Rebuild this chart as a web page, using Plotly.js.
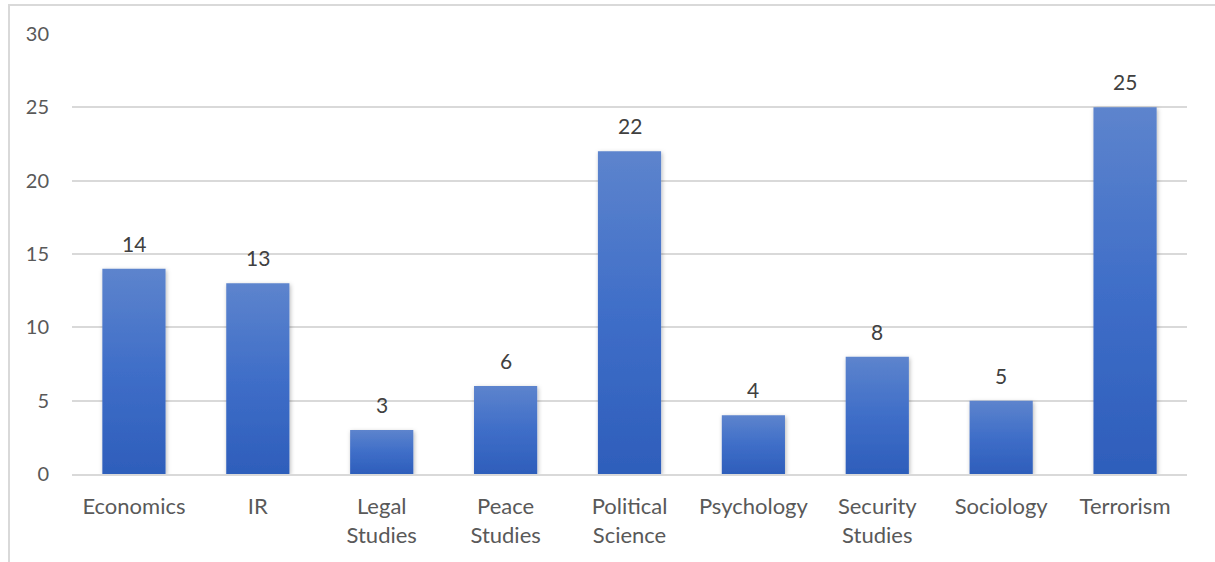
<!DOCTYPE html>
<html>
<head>
<meta charset="utf-8">
<script src="https://cdn.plot.ly/plotly-3.0.1.min.js"></script>
<style>
  html, body { margin: 0; padding: 0; background: #ffffff; }
  #frame {
    position: absolute; left: 8px; top: 4px;
    width: 1207px; height: 558px;
    border-left: 2px solid #d9d9d9; border-top: 2px solid #d9d9d9;
    box-sizing: border-box;
  }
  #chart { width: 1205px; height: 556px; }
</style>
</head>
<body>
<div id="frame"><div id="chart"></div></div>
<svg width="0" height="0" style="position:absolute">
  <defs>
    <linearGradient id="barFill" x1="0" y1="0" x2="0" y2="1">
      <stop offset="0" stop-color="#5d84cd"/>
      <stop offset="0.5" stop-color="#3f6ec8"/>
      <stop offset="1" stop-color="#2e5ebb"/>
    </linearGradient>
    <filter id="barShadow" x="-20%" y="-5%" width="140%" height="110%">
      <feDropShadow dx="1" dy="1.5" stdDeviation="2" flood-color="#000" flood-opacity="0.28"/>
    </filter>
  </defs>
</svg>
<script>
// Disciplines and number of items in each
const categories = ["Economics", "IR", "Legal<br>Studies", "Peace<br>Studies",
  "Political<br>Science", "Psychology", "Security<br>Studies", "Sociology", "Terrorism"];
const counts = [14, 13, 3, 6, 22, 4, 8, 5, 25];
const yTicks = [0, 5, 10, 15, 20, 25, 30];

const FONT = "Lato, 'Open Sans', sans-serif";

const trace = {
  type: "bar",
  x: categories,
  y: counts,
  marker: { color: "#3f6ec8", line: { width: 0 } },
  hoverinfo: "x+y"
};

// Value labels sit just above each bar
const labels = categories.map((c, i) => ({
  x: c, y: counts[i], text: String(counts[i]),
  xref: "x", yref: "y", showarrow: false,
  yanchor: "bottom", yshift: 11,
  font: { family: FONT, size: 21, color: "#404040" }
}));

const layout = {
  width: 1205, height: 556,
  margin: { l: 62, r: 28, t: 28, b: 88 },
  paper_bgcolor: "#ffffff", plot_bgcolor: "#ffffff",
  showlegend: false,
  bargap: 0.49,
  font: { family: FONT, size: 21, color: "#595959" },
  xaxis: {
    type: "category",
    showgrid: false, zeroline: false,
    showline: true, linecolor: "#d9d9d9", linewidth: 2,
    ticks: "", ticklabelstandoff: 12,
    tickfont: { family: FONT, size: 22, color: "#595959" },
    automargin: false
  },
  yaxis: {
    range: [0, 30], tickvals: yTicks, ticktext: yTicks.map(String),
    showgrid: true, gridcolor: "#d9d9d9", gridwidth: 2,
    zeroline: false, showline: false, ticks: "",
    ticklabelstandoff: 22,
    tickfont: { family: FONT, size: 20, color: "#595959" },
    automargin: false
  },
  annotations: labels
};

Plotly.newPlot("chart", [trace], layout, { displayModeBar: false, staticPlot: true }).then(gd => {
  gd.querySelectorAll(".bars .point path").forEach(p => {
    p.style.fill = "url(#barFill)";
    p.setAttribute("filter", "url(#barShadow)");
  });
});
</script>
</body>
</html>
